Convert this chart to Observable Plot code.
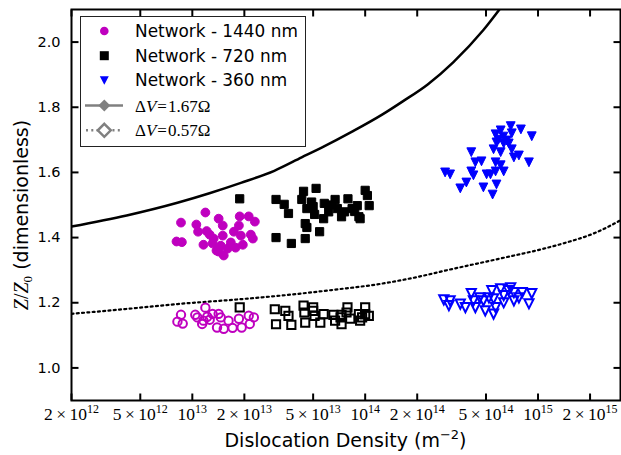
<!DOCTYPE html>
<html><head><meta charset="utf-8">
<script src="https://cdn.jsdelivr.net/npm/d3@7"></script>
<script src="https://cdn.jsdelivr.net/npm/@observablehq/plot@0.6"></script>
<style>body{margin:0;background:#fff}#chart{width:621px;height:455px}</style>
</head><body><div id="chart"></div>
<script>
// ---- data: [dislocation density (m^-2), Z/Z0] ----
const net1440Filled = [[8.6e12,1.446],[8.1e12,1.388],[8.7e12,1.386],[1.055e13,1.44],[1.08e13,1.418],[1.19e13,1.477],[1.21e13,1.42],[1.26e13,1.409],[1.16e13,1.378],[1.31e13,1.382],[1.33e13,1.397],[1.42e13,1.458],[1.5e13,1.437],[1.5e13,1.406],[1.46e13,1.375],[1.42e13,1.357],[1.38e13,1.36],[1.52e13,1.345],[1.6e13,1.366],[1.67e13,1.385],[1.74e13,1.418],[1.86e13,1.437],[1.88e13,1.465],[1.91e13,1.406],[1.78e13,1.369],[1.96e13,1.378],[2.12e13,1.465],[2.3e13,1.449],[2.18e13,1.409],[2.24e13,1.397]];
const net1440Open = [[8.6e12,1.163],[8.2e12,1.142],[8.8e12,1.136],[1.04e13,1.163],[1.07e13,1.155],[1.19e13,1.185],[1.16e13,1.145],[1.26e13,1.148],[1.42e13,1.166],[1.46e13,1.155],[1.39e13,1.124],[1.52e13,1.12],[1.71e13,1.123],[1.86e13,1.151],[1.93e13,1.124],[1.62e13,1.145],[2.12e13,1.16],[2.27e13,1.155],[2.15e13,1.135],[1.14e13,1.135],[1.31e13,1.166],[1.22e13,1.157]];
const net720Filled = [[1.88e13,1.519],[3.05e13,1.517],[3.4e13,1.502],[3.6e13,1.474],[4.4e13,1.542],[5.2e13,1.551],[4.3e13,1.517],[4.9e13,1.509],[4.6e13,1.489],[5.1e13,1.471],[5.75e13,1.458],[4.5e13,1.443],[4.6e13,1.431],[5.45e13,1.418],[3.05e13,1.40],[3.74e13,1.382],[4.5e13,1.397],[5.8e13,1.505],[6.7e13,1.517],[6.9e13,1.489],[7.3e13,1.464],[7.95e13,1.519],[8.4e13,1.489],[9.0e13,1.498],[9.2e13,1.464],[1.0e14,1.545],[1.03e14,1.529],[1.055e14,1.498],[6.15e13,1.479],[7.6e13,1.479],[5.0e13,1.495],[6.4e13,1.50],[8.7e13,1.48],[9.35e13,1.458]];
const net720Open = [[1.88e13,1.186],[3.0e13,1.18],[3.05e13,1.134],[3.45e13,1.175],[3.74e13,1.132],[3.6e13,1.16],[4.4e13,1.191],[4.45e13,1.17],[4.5e13,1.139],[5.0e13,1.175],[5.1e13,1.16],[5.5e13,1.139],[5.75e13,1.165],[6.55e13,1.163],[6.7e13,1.145],[7.3e13,1.163],[7.8e13,1.17],[8.2e13,1.151],[9.2e13,1.165],[9.6e13,1.155],[1.0e14,1.165],[1.05e14,1.16],[7.3e13,1.134],[5.0e13,1.186],[7.9e13,1.186],[1.0e14,1.186],[9.35e13,1.145],[7.2e13,1.155]];
const net360Filled = [[6.95e14,1.742],[7.96e14,1.732],[9.2e14,1.711],[6.08e14,1.729],[5.68e14,1.717],[7.05e14,1.72],[6.59e14,1.698],[5.75e14,1.692],[6.33e14,1.689],[6.77e14,1.689],[7.05e14,1.671],[5.53e14,1.671],[6.08e14,1.662],[4.11e14,1.662],[7.25e14,1.646],[7.75e14,1.652],[8.86e14,1.631],[4.34e14,1.631],[4.71e14,1.634],[5.68e14,1.631],[6.08e14,1.622],[2.9e14,1.60],[3.1e14,1.594],[4.11e14,1.603],[4.23e14,1.591],[5.04e14,1.594],[5.31e14,1.594],[6.33e14,1.603],[5.68e14,1.603],[3.85e14,1.569],[3.55e14,1.551],[4.83e14,1.554],[5.75e14,1.563],[5.46e14,1.532],[6.3e14,1.71],[5.9e14,1.70]];
const net360Open = [[2.85e14,1.209],[3.1e14,1.206],[3.05e14,1.191],[3.55e14,1.196],[3.8e14,1.185],[4.11e14,1.228],[4.23e14,1.206],[4.34e14,1.185],[4.83e14,1.206],[4.95e14,1.175],[5.4e14,1.237],[5.53e14,1.212],[5.68e14,1.185],[5.53e14,1.165],[6.08e14,1.243],[6.33e14,1.222],[6.33e14,1.20],[6.95e14,1.246],[7.25e14,1.231],[7.25e14,1.206],[7.75e14,1.215],[8.1e14,1.231],[9.2e14,1.228],[8.86e14,1.197],[5.2e14,1.215],[6.75e14,1.237],[4.6e14,1.215]];
const curveDV167 = [[2e12,1.434],[4.17e12,1.468],[8.2e12,1.507],[1.27e13,1.537],[1.91e13,1.568],[2.98e13,1.605],[4.29e13,1.646],[5.6e13,1.676],[8.4e13,1.725],[1.26e14,1.778],[1.65e14,1.818],[2.3e14,1.87],[3.23e14,1.938],[4.83e14,2.037],[6.08e14,2.105]];
const curveDV057 = [[2e12,1.166],[4.17e12,1.181],[8.2e12,1.196],[1.91e13,1.211],[3.27e13,1.222],[6.4e13,1.239],[1.26e14,1.259],[1.88e14,1.276],[3.22e14,1.304],[6.33e14,1.338],[1.08e15,1.366],[1.42e15,1.383],[2.13e15,1.414],[3.0e15,1.453]];
const xTicks = [2e12,5e12,1e13,2e13,5e13,1e14,2e14,5e14,1e15,2e15];
const yTicks = [1.0,1.2,1.4,1.6,1.8,2.0];
const seriesNames = ["Network - 1440 nm","Network - 720 nm","Network - 360 nm"];
const curveNames = ["1.67","0.57"];

const MAG = "#bf00bf", BLUE = "#0000ff";
const W = 621, H = 455, mL = 71, mR = 1, mT = 9, mB = 55;
const xDom = [2e12, 3e15], yDom = [0.9, 2.1];
const pw = W - mL - mR, ph = H - mT - mB, TL = 7;
// tick length of 7px expressed in each scale's units
const dyTick = TL * (yDom[1] - yDom[0]) / ph;
const kxTick = Math.pow(10, TL * Math.log10(xDom[1] / xDom[0]) / pw);

const sq = {draw(c, s){const r=Math.sqrt(s/Math.PI); c.moveTo(-r,-r); c.lineTo(r,-r); c.lineTo(r,r); c.lineTo(-r,r); c.closePath();}};
const triDown = {draw(c, s){const r=Math.sqrt(s/Math.PI); c.moveTo(-r,-r); c.lineTo(r,-r); c.lineTo(0,r); c.closePath();}};
const fmtX = d => { const e = Math.floor(Math.log10(d) + 1e-9); const m = Math.round(d / 10 ** e); return (m === 1 ? "" : m + "|") + "10^" + e; };

const P = {x: d => d[0], y: d => d[1]};
const tickStyle = {stroke: "black", strokeWidth: 2};
const chart = Plot.plot({
  width: W, height: H, marginLeft: mL, marginRight: mR, marginTop: mT, marginBottom: mB,
  x: {type: "log", domain: xDom, axis: null},
  y: {domain: yDom},
  style: {background: "white", fontFamily: "DejaVu Sans"},
  marks: [
    Plot.line(curveDV167, {...P, stroke: "black", strokeWidth: 2.5, curve: "monotone-x", clip: true}),
    Plot.line(curveDV057, {...P, stroke: "black", strokeWidth: 2.2, strokeDasharray: "2,3.3", curve: "monotone-x", clip: true}),
    Plot.dot(net1440Filled, {...P, symbol: "circle", r: 4.4, fill: MAG, stroke: MAG, strokeWidth: 1}),
    Plot.dot(net720Filled, {...P, symbol: sq, r: 4.1, fill: "black", stroke: "black", strokeWidth: 1}),
    Plot.dot(net360Filled, {...P, symbol: triDown, r: 4.4, fill: BLUE, stroke: BLUE, strokeWidth: 1}),
    Plot.dot(net1440Open, {...P, symbol: "circle", r: 4.2, fill: "none", stroke: MAG, strokeWidth: 2}),
    Plot.dot(net720Open, {...P, symbol: sq, r: 4.1, fill: "none", stroke: "black", strokeWidth: 2}),
    Plot.dot(net360Open, {...P, symbol: triDown, r: 4.6, fill: "none", stroke: BLUE, strokeWidth: 2}),
    // inward ticks on all four sides
    Plot.link(xTicks, {x1: d => d, x2: d => d, y1: yDom[0], y2: yDom[0] + dyTick, ...tickStyle}),
    Plot.link(xTicks, {x1: d => d, x2: d => d, y1: yDom[1], y2: yDom[1] - dyTick, ...tickStyle}),
    Plot.link(yTicks, {x1: xDom[0], x2: xDom[0] * kxTick, y1: d => d, y2: d => d, ...tickStyle}),
    Plot.link(yTicks, {x1: xDom[1], x2: xDom[1] / kxTick, y1: d => d, y2: d => d, ...tickStyle}),
    Plot.frame({stroke: "black", strokeWidth: 2}),
    Plot.text(xTicks, {x: d => d, frameAnchor: "bottom", lineAnchor: "bottom", dy: 19, text: fmtX,
      fontSize: 17.5, fontFamily: "Liberation Serif", fill: "black"}),
    Plot.axisY({ticks: yTicks, tickSize: 0, tickPadding: 11, label: null, fontSize: 14.5, fontFamily: "DejaVu Sans", tickFormat: d3.format(".1f")})
  ]
});
document.getElementById("chart").appendChild(chart);
const svg = d3.select(chart);
const sx = chart.scale("x");
const xc = (sx.apply(xDom[0]) + sx.apply(xDom[1])) / 2;

// x tick labels with superscripts
svg.selectAll('g[aria-label="text"] text').each(function(){
  const s = this.textContent; if (s.indexOf("^") < 0) return;
  const t = d3.select(this); t.text("");
  const [pre, exp] = s.split("^");
  const parts = pre.split("|");
  if (parts.length === 2) { t.append("tspan").text(parts[0]); t.append("tspan").attr("dx", 3.5).text("×"); t.append("tspan").attr("dx", 3.5).text(parts[1]); }
  else t.append("tspan").text(parts[0]);
  t.append("tspan").attr("dy", -7).style("font-size", "12px").text(exp);
});

// axis titles
const xl = svg.append("text").attr("x", xc).attr("y", 447).attr("text-anchor", "middle")
  .style("font-family", "DejaVu Sans").style("font-size", "19px").attr("fill", "black");
xl.append("tspan").text("Dislocation Density (m");
xl.append("tspan").attr("dy", -8).style("font-size", "13px").text("−2");
xl.append("tspan").attr("dy", 8).text(")");

const yl = svg.append("text").attr("transform", "translate(28,215) rotate(-90)").attr("text-anchor", "middle")
  .style("font-size", "19px").attr("fill", "black");
const serif = "Liberation Serif";
yl.append("tspan").style("font-family", serif).style("font-style", "italic").style("font-size", "20px").text("Z");
yl.append("tspan").style("font-family", serif).style("font-size", "20px").text("/");
yl.append("tspan").style("font-family", serif).style("font-style", "italic").style("font-size", "20px").text("Z");
yl.append("tspan").style("font-family", serif).style("font-size", "13px").attr("dy", 4).text("0");
yl.append("tspan").style("font-family", "DejaVu Sans").attr("dy", -4).text(" (dimensionless)");

// legend
const lg = svg.append("g");
lg.append("rect").attr("x", 80.5).attr("y", 16.5).attr("width", 225).attr("height", 130)
  .attr("fill", "white").attr("stroke", "#222").attr("stroke-width", 1);
const mx = 104.3, rows = [31, 55.7, 80.3, 105.5, 130.3];
lg.append("circle").attr("cx", mx).attr("cy", rows[0]).attr("r", 4.3).attr("fill", MAG);
lg.append("rect").attr("x", mx - 4.5).attr("y", rows[1] - 4.5).attr("width", 9).attr("height", 9).attr("fill", "black");
lg.append("path").attr("d", `M${mx-4.5},${rows[2]-4}L${mx+4.5},${rows[2]-4}L${mx},${rows[2]+4.5}Z`).attr("fill", BLUE);
lg.append("line").attr("x1", 85).attr("x2", 123).attr("y1", rows[3]).attr("y2", rows[3]).attr("stroke", "#808080").attr("stroke-width", 2.5);
lg.append("path").attr("d", `M${mx},${rows[3]-6}L${mx+6},${rows[3]}L${mx},${rows[3]+6}L${mx-6},${rows[3]}Z`).attr("fill", "#808080");
lg.append("line").attr("x1", 86).attr("x2", 123).attr("y1", rows[4]).attr("y2", rows[4]).attr("stroke", "#808080").attr("stroke-width", 2.5).attr("stroke-dasharray", "2,3.3");
lg.append("path").attr("d", `M${mx},${rows[4]-6.5}L${mx+6.5},${rows[4]}L${mx},${rows[4]+6.5}L${mx-6.5},${rows[4]}Z`).attr("fill", "white").attr("stroke", "#808080").attr("stroke-width", 2.5);
seriesNames.forEach((n, i) => {
  lg.append("text").attr("x", 135).attr("y", rows[i] + 6).attr("text-anchor", "start")
    .style("font-family", "DejaVu Sans").style("font-size", "16.9px").attr("fill", "black").text(n);
});
curveNames.forEach((v, i) => {
  const t = lg.append("text").attr("x", 135).attr("y", rows[3 + i] + 6).attr("text-anchor", "start")
    .style("font-family", serif).style("font-size", "17px").attr("fill", "black");
  t.append("tspan").text("Δ");
  t.append("tspan").style("font-style", "italic").text("V");
  t.append("tspan").attr("dx", 1).text("=");
  t.append("tspan").attr("dx", 1).text(v + "Ω");
});
</script>
</body></html>
